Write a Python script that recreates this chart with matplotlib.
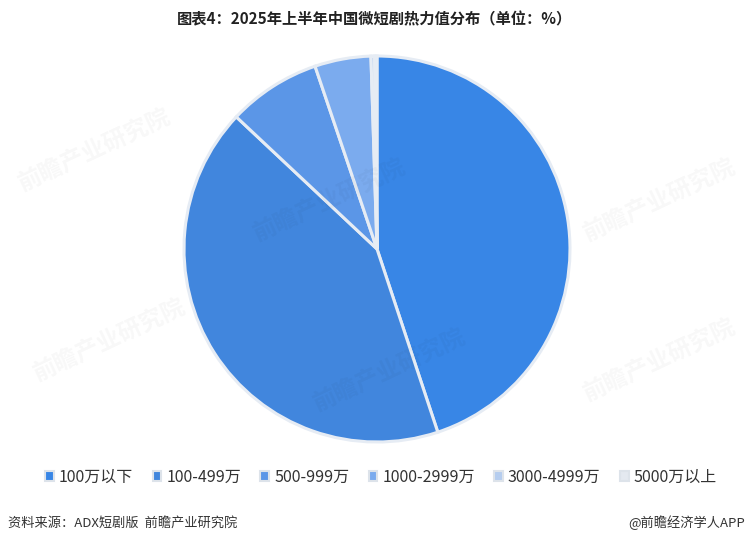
import matplotlib
matplotlib.use("Agg")
import matplotlib.pyplot as plt

plt.rcParams['font.family'] = ['Noto Sans CJK SC', 'DejaVu Sans']

categories = ["100万以下", "100-499万", "500-999万", "1000-2999万", "3000-4999万", "5000万以上"]
values = [44.9, 42.1, 7.8, 4.7, 0.3, 0.2]
colors = ["#3886E6", "#4186DD", "#5B96E7", "#7BABEE", "#B5CDEF", "#E4E9F0"]

fig = plt.figure(figsize=(7.49, 5.45), dpi=100)
ax = fig.add_axes([184/749, 103/545, 386/749, 386/545])
wedges, _ = ax.pie(values, colors=colors, startangle=90, counterclock=False,
                   wedgeprops=dict(edgecolor="#E6ECF4", linewidth=2.2))
ax.set_aspect('equal')
ax.set_xlim(-1.0, 1.0)
ax.set_ylim(-1.0, 1.0)

fig.text(375/749, 1 - 19/545, "图表4：2025年上半年中国微短剧热力值分布（单位：%）",
         ha="center", va="center", fontsize=11, fontweight="bold", color="#222222")

# watermarks
for (x, y) in [(95, 150), (330, 200), (660, 200), (110, 340), (390, 370), (660, 360)]:
    fig.text(x/749, 1 - y/545, "前瞻产业研究院", rotation=25, fontsize=17,
             fontweight="bold", color="#000000", alpha=0.03, ha="center", va="center")

leg = fig.legend(wedges, categories, loc="center", bbox_to_anchor=(381/749, 1 - 477/545),
                 ncol=6, frameon=False, fontsize=11.5, handlelength=0.55, handleheight=0.55,
                 handletextpad=0.3, columnspacing=1.22, labelcolor="#333333")
for h in leg.legend_handles:
    h.set_edgecolor("#DDE3EA")
    h.set_linewidth(1.5)

fig.text(8/749, 1 - 523/545, "资料来源：ADX短剧版  前瞻产业研究院", ha="left", va="center",
         fontsize=9.5, color="#333333")
fig.text(745/749, 1 - 523/545, "@前瞻经济学人APP", ha="right", va="center",
         fontsize=9.5, color="#333333")

fig.savefig("out.png", dpi=100)
